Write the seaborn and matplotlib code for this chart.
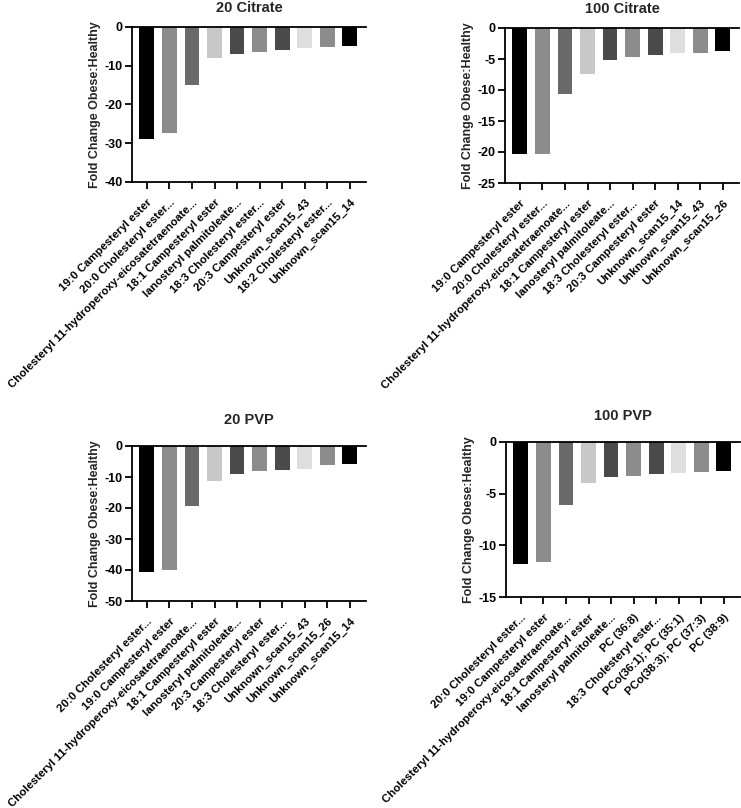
import matplotlib
matplotlib.use("Agg")
import matplotlib.pyplot as plt
import seaborn as sns
import pandas as pd

sns.set_theme(style="ticks")
plt.rcParams['font.family'] = ['Liberation Sans', 'DejaVu Sans']
plt.rcParams['font.weight'] = 'bold'

# ---- data ----
titles = ["20 Citrate", "100 Citrate", "20 PVP", "100 PVP"]

labels_20cit = ["19:0 Campesteryl ester", "20:0 Cholesteryl ester...",
                "Cholesteryl 11-hydroperoxy-eicosatetraenoate...", "18:1 Campesteryl ester",
                "lanosteryl palmitoleate...", "18:3 Cholesteryl ester...",
                "20:3 Campesteryl ester", "Unknown_scan15_43",
                "18:2 Cholesteryl ester...", "Unknown_scan15_14"]
values_20cit = [-28.9, -27.4, -14.9, -8.1, -7.05, -6.5, -5.85, -5.5, -5.25, -4.8]

labels_100cit = ["19:0 Campesteryl ester", "20:0 Cholesteryl ester...",
                 "Cholesteryl 11-hydroperoxy-eicosatetraenoate...", "18:1 Campesteryl ester",
                 "lanosteryl palmitoleate...", "18:3 Cholesteryl ester...",
                 "20:3 Campesteryl ester", "Unknown_scan15_14",
                 "Unknown_scan15_43", "Unknown_scan15_26"]
values_100cit = [-20.4, -20.3, -10.6, -7.35, -5.1, -4.7, -4.37, -4.0, -4.0, -3.7]

labels_20pvp = ["20:0 Cholesteryl ester...", "19:0 Campesteryl ester",
                "Cholesteryl 11-hydroperoxy-eicosatetraenoate...", "18:1 Campesteryl ester",
                "lanosteryl palmitoleate...", "20:3 Campesteryl ester",
                "18:3 Cholesteryl ester...", "Unknown_scan15_43",
                "Unknown_scan15_26", "Unknown_scan15_14"]
values_20pvp = [-40.7, -40.1, -19.35, -11.4, -9.1, -8.05, -7.6, -7.4, -6.2, -5.8]

labels_100pvp = ["20:0 Cholesteryl ester...", "19:0 Campesteryl ester",
                 "Cholesteryl 11-hydroperoxy-eicosatetraenoate...", "18:1 Campesteryl ester",
                 "lanosteryl palmitoleate...", "PC (36:8)",
                 "18:3 Cholesteryl ester...", "PCo(36:1); PC (35:1)",
                 "PCo(38:3); PC (37:3)", "PC (38:9)"]
values_100pvp = [-11.8, -11.6, -6.1, -3.97, -3.42, -3.3, -3.1, -3.0, -2.94, -2.77]

y_limits = [(-40, 0), (-25, 0), (-50, 0), (-15, 0)]
y_ticks = [[0, -10, -20, -30, -40], [0, -5, -10, -15, -20, -25],
           [0, -10, -20, -30, -40, -50], [0, -5, -10, -15]]
ylabel = "Fold Change Obese:Healthy"

bar_colors = ["#000000", "#8c8c8c", "#6a6a6a", "#c8c8c8", "#4a4a4a",
              "#8c8c8c", "#4a4a4a", "#dedede", "#8c8c8c", "#000000"]

all_labels = [labels_20cit, labels_100cit, labels_20pvp, labels_100pvp]
all_values = [values_20cit, values_100cit, values_20pvp, values_100pvp]

# ---- figure ----
W, H = 741, 808
fig = plt.figure(figsize=(W / 100, H / 100), dpi=100)

# axes boxes in pixels: left, top, right, bottom
boxes = [(132, 27, 366, 182), (505, 28, 739, 183),
         (132, 446, 366, 601), (506, 442, 740, 597)]
title_pads = [11, 11, 15.5, 15.5]

for i in range(4):
    l, t, r, b = boxes[i]
    ax = fig.add_axes([l / W, 1 - b / H, (r - l) / W, (b - t) / H])
    df = pd.DataFrame({"label": all_labels[i], "value": all_values[i]})
    sns.barplot(data=df, x="label", y="value", hue="label", order=all_labels[i],
                palette=bar_colors, legend=False, width=0.66, ax=ax,
                saturation=1, linewidth=0)
    ax.set_xlim(-0.66, 9.72)
    ax.set_ylim(*y_limits[i])
    ax.set_yticks(y_ticks[i])
    ax.set_yticklabels([str(v) for v in y_ticks[i]], fontsize=9, fontweight='bold')
    ax.set_xticks(range(10))
    ax.set_xticklabels(all_labels[i], rotation=45, ha='right',
                       rotation_mode='anchor', fontsize=8.2, fontweight='bold')
    ax.set_xlabel("")
    ax.set_ylabel(ylabel, fontsize=9, fontweight='bold', labelpad=2)
    ax.set_title(titles[i], fontsize=10.5, fontweight='bold', pad=title_pads[i])
    for side in ['left', 'bottom', 'top']:
        ax.spines[side].set_linewidth(1.3)
        ax.spines[side].set_color('black')
    ax.spines['right'].set_visible(False)
    ax.tick_params(axis='both', direction='out', length=5, width=1.3, colors='black')
    ax.tick_params(axis='x', pad=6)
    ax.tick_params(axis='y', pad=2)

fig.savefig("out.png", dpi=100)
